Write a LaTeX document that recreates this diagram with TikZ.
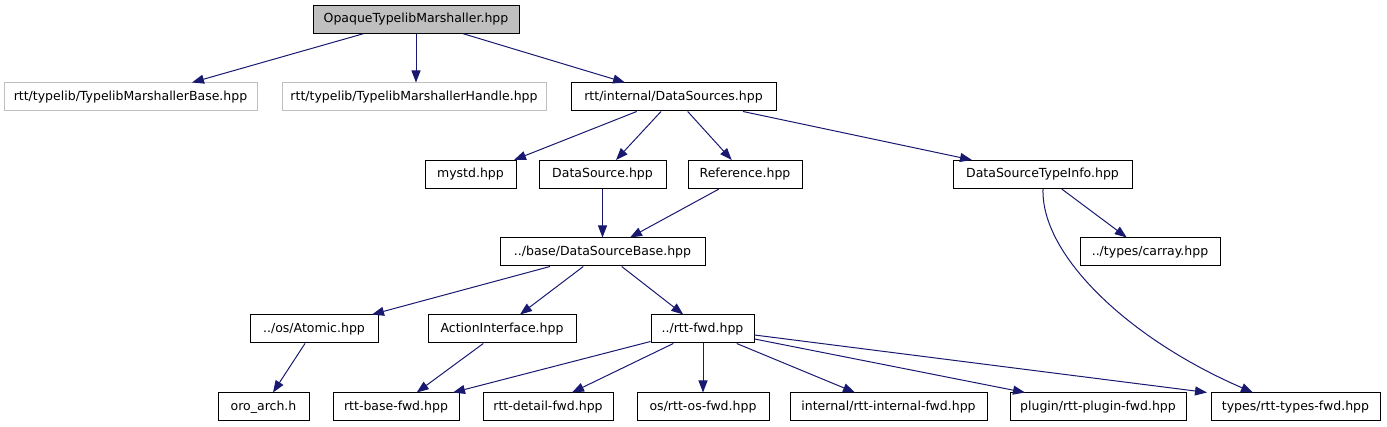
\documentclass[tikz,border=0pt]{standalone}
\usepackage{fontspec}
\setmainfont{DejaVu Sans}
\usetikzlibrary{arrows.meta}
\definecolor{edgeblue}{HTML}{191970}
\definecolor{boxgray}{HTML}{BFBFBF}
\begin{document}
\begin{tikzpicture}[x=1pt,y=-1pt,
  box/.style={draw=black, line width=1pt, inner sep=0pt, minimum height=28pt,
    font=\fontsize{12.5}{15}\selectfont, text=black},
  rootbox/.style={box, fill=boxgray},
  greybox/.style={box, draw=boxgray},
  edge/.style={draw=edgeblue, line width=1pt, -{Triangle[length=12pt,width=9pt]}}
]
\useasboundingbox (0,0) rectangle (1387,427);

% row 1
\node[rootbox, minimum width=206pt, minimum height=27.5pt] (op) at (416,19.5) {OpaqueTypelibMarshaller.hpp};
% row 2
\node[greybox, minimum width=253pt] (tmb) at (130.5,97) {rtt/typelib/TypelibMarshallerBase.hpp};
\node[greybox, minimum width=264pt] (tmh) at (414,97) {rtt/typelib/TypelibMarshallerHandle.hpp};
\node[box, minimum width=205pt] (ds) at (673.5,97) {rtt/internal/DataSources.hpp};
% row 3
\node[box, minimum width=91pt] (mystd) at (470.5,174.5) {mystd.hpp};
\node[box, minimum width=127pt] (dsrc) at (602.5,174.5) {DataSource.hpp};
\node[box, minimum width=114pt] (ref) at (745,174.5) {Reference.hpp};
\node[box, minimum width=179pt] (dsti) at (1042.5,174.5) {DataSourceTypeInfo.hpp};
% row 4
\node[box, minimum width=205pt] (dsb) at (602.5,252) {../base/DataSourceBase.hpp};
\node[box, minimum width=140pt] (carray) at (1150,252) {../types/carray.hpp};
% row 5
\node[box, minimum width=128pt] (atomic) at (314,329) {../os/Atomic.hpp};
\node[box, minimum width=148pt] (action) at (502,329) {ActionInterface.hpp};
\node[box, minimum width=103pt] (rttfwd) at (702.5,329) {../rtt-fwd.hpp};
% row 6
\node[box, minimum width=91pt] (oro) at (263.5,407) {oro\_arch.h};
\node[box, minimum width=126pt] (basefwd) at (396,407) {rtt-base-fwd.hpp};
\node[box, minimum width=130pt] (detail) at (548,407) {rtt-detail-fwd.hpp};
\node[box, minimum width=132pt] (osfwd) at (703,407) {os/rtt-os-fwd.hpp};
\node[box, minimum width=197pt] (internal) at (888.5,407) {internal/rtt-internal-fwd.hpp};
\node[box, minimum width=176pt] (plugin) at (1098,407) {plugin/rtt-plugin-fwd.hpp};
\node[box, minimum width=169pt] (types) at (1295.5,407) {types/rtt-types-fwd.hpp};

% edges
\draw[edge] ([xshift=-52.7pt]op.south) -- ([xshift=61.5pt]tmb.north);
\draw[edge] (op.south) -- ([xshift=2pt]tmh.north);
\draw[edge] ([xshift=47.3pt]op.south) -- ([xshift=-48.5pt]ds.north);

\draw[edge] ([xshift=-36.8pt]ds.south) -- ([xshift=43.5pt]mystd.north);
\draw[edge] ([xshift=-12.5pt]ds.south) -- ([xshift=13.5pt]dsrc.north);
\draw[edge] ([xshift=14.2pt]ds.south) -- ([xshift=-13.3pt]ref.north);
\draw[edge] ([xshift=69.5pt]ds.south) -- ([xshift=-70.5pt]dsti.north);

\draw[edge] (dsrc.south) -- (dsb.north);
\draw[edge] ([xshift=-26pt]ref.south) -- ([xshift=27.5pt]dsb.north);
\draw[edge] ([xshift=19.2pt]dsti.south) -- ([xshift=-23.3pt]carray.north);
\draw[edge] ([xshift=0.5pt]dsti.south) .. controls +(-2,67) and +(-123,-53) .. ([xshift=-42.5pt]types.north);

\draw[edge] ([xshift=-52.5pt]dsb.south) -- ([xshift=58pt]atomic.north);
\draw[edge] ([xshift=-19.2pt]dsb.south) -- ([xshift=18pt]action.north);
\draw[edge] ([xshift=19.2pt]dsb.south) -- ([xshift=-19.2pt]rttfwd.north);

\draw[edge] ([xshift=-9pt]atomic.south) -- ([xshift=9.5pt]oro.north);
\draw[edge] ([xshift=-18.7pt]action.south) -- ([xshift=20.7pt]basefwd.north);
\draw[edge] ([yshift=2pt]rttfwd.south west) -- ([xshift=57pt]basefwd.north);
\draw[edge] ([xshift=-29.2pt]rttfwd.south) -- ([xshift=24pt]detail.north);
\draw[edge] ([xshift=0.5pt]rttfwd.south) -- (osfwd.north);
\draw[edge] ([xshift=34.2pt]rttfwd.south) -- ([xshift=-33.5pt]internal.north);
\draw[edge] ([yshift=-10pt]rttfwd.east) -- ([xshift=-73pt]plugin.north);
\draw[edge] ([yshift=-6pt]rttfwd.east) -- ([xshift=-88.5pt]types.north);
\end{tikzpicture}
\end{document}
